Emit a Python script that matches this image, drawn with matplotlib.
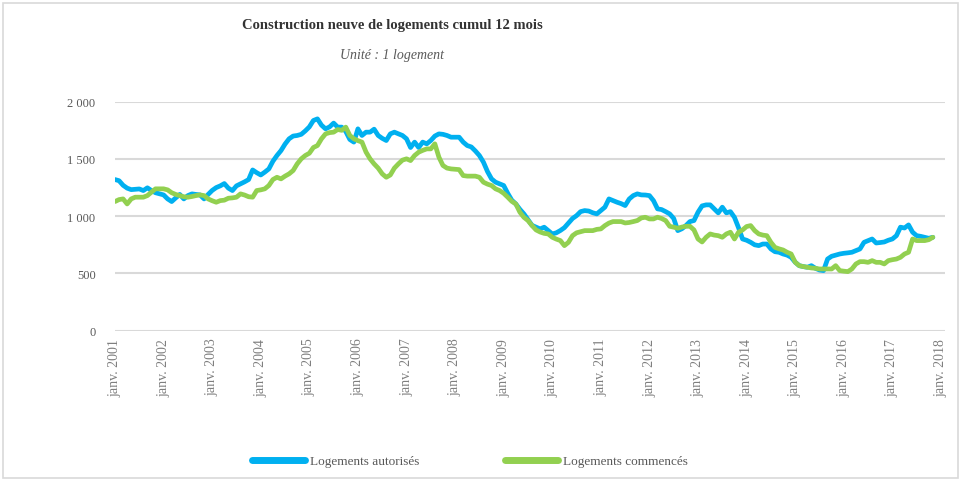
import matplotlib
matplotlib.use("Agg")
import matplotlib.pyplot as plt
from matplotlib.patches import Rectangle

# monthly values, janv. 2001 -> nov. 2017
autorises = [
    1320, 1310, 1270, 1245, 1232, 1235, 1238, 1224, 1248, 1224, 1205, 1195,
    1186, 1151, 1128, 1160, 1190, 1151, 1180, 1195, 1190, 1186, 1151, 1190,
    1225, 1250, 1265, 1285, 1245, 1224, 1265, 1282, 1300, 1320, 1404, 1380,
    1360, 1385, 1413, 1480, 1530, 1573, 1630, 1676, 1700, 1705, 1715, 1745,
    1780, 1836, 1850, 1795, 1763, 1780, 1813, 1778, 1778, 1740, 1670, 1647,
    1763, 1705, 1734, 1734, 1760, 1705, 1680, 1661, 1719, 1734, 1720, 1705,
    1676, 1600, 1647, 1600, 1647, 1632, 1661, 1700, 1719, 1715, 1705, 1690,
    1690, 1690, 1647, 1617, 1605, 1570, 1530, 1472, 1390, 1326, 1297, 1282,
    1268, 1200, 1140, 1107, 1060, 1020, 970, 920, 904, 889, 904, 874,
    845, 855, 875, 900, 940, 980, 1005, 1040, 1049, 1045, 1030, 1020,
    1049, 1079, 1151, 1136, 1122, 1110, 1093, 1150, 1180, 1195, 1186, 1185,
    1180, 1136, 1064, 1058, 1040, 1020, 980, 874, 890, 918, 953, 962,
    1035, 1090, 1099, 1099, 1064, 1029, 1079, 1029, 1040, 990, 900, 801,
    790, 772, 750, 743, 757, 757, 714, 690, 685, 670, 660, 641,
    598, 568, 560, 554, 568, 545, 530, 525, 626, 650, 660, 670,
    676, 680, 685, 700, 714, 772, 787, 801, 766, 770, 775, 790,
    801, 830, 904, 897, 924, 860, 830, 824, 815, 807, 816,
]

commences = [
    1128, 1145, 1151, 1107, 1151, 1166, 1166, 1166, 1180, 1210, 1239, 1239,
    1239, 1230, 1205, 1190, 1180, 1170, 1166, 1172, 1180, 1186, 1180, 1151,
    1135, 1122, 1136, 1140, 1157, 1160, 1166, 1195, 1185, 1170, 1166, 1224,
    1230, 1239, 1268, 1320, 1340, 1326, 1350, 1370, 1399, 1457, 1501, 1530,
    1550, 1600, 1617, 1676, 1719, 1730, 1734, 1757, 1750, 1778, 1705, 1676,
    1660, 1647, 1560, 1501, 1457, 1420, 1370, 1340, 1360, 1420, 1457, 1490,
    1501, 1486, 1530, 1559, 1575, 1588, 1588, 1632, 1516, 1443, 1420, 1413,
    1410, 1407, 1355, 1350, 1350, 1350, 1340, 1297, 1280, 1268, 1239, 1224,
    1200, 1166, 1130, 1107, 1035, 990, 962, 918, 880, 862, 850, 845,
    816, 800, 787, 743, 772, 830, 855, 865, 874, 874, 874, 885,
    889, 918, 940, 953, 953, 953, 941, 945, 953, 962, 985, 991,
    976, 976, 991, 980, 962, 912, 904, 895, 905, 912, 912, 880,
    801, 775, 816, 845, 835, 830, 816, 845, 860, 801, 860, 880,
    910, 918, 874, 845, 835, 830, 772, 728, 715, 705, 685, 670,
    598, 568, 560, 554, 548, 545, 539, 539, 539, 539, 568, 525,
    520, 516, 539, 583, 603, 603, 597, 612, 597, 597, 583, 612,
    620, 626, 641, 670, 685, 801, 787, 787, 787, 795, 816,
]

years = list(range(2001, 2019))
tick_labels = ["janv. %d" % y for y in years]
y_ticks = [0, 500, 1000, 1500, 2000]
y_labels = ["0", "500", "1 000", "1 500", "2 000"]

serif = ["Liberation Serif", "DejaVu Serif"]
gray = "#595959"

fig = plt.figure(figsize=(9.61, 4.81), dpi=100)
fig.patches.append(Rectangle((0.003, 0.004), 0.994, 0.988, transform=fig.transFigure,
                             fill=False, edgecolor="#d9d9d9", linewidth=1.2))

ax = fig.add_axes([115 / 961, 1 - 331.7 / 481, 830 / 961, 229 / 481])
months = list(range(len(autorises)))
ax.plot(months, autorises, color="#00B0F0", lw=3.4, solid_capstyle="round",
        solid_joinstyle="round", label="Logements autorisés")
ax.plot(months, commences, color="#92D050", lw=3.4, solid_capstyle="round",
        solid_joinstyle="round", label="Logements commencés")

ax.set_xlim(0, 205)
ax.set_ylim(0, 2000)
ax.set_yticks(y_ticks)
ax.set_yticklabels(y_labels, family=serif, fontsize=9, color=gray)
ax.set_xticks([12 * i for i in range(len(years))])
ax.set_xticklabels(tick_labels, rotation=90, family=serif, fontsize=10, color="#7f7f7f")
ax.tick_params(axis="both", length=0)
ax.tick_params(axis="y", pad=14)
ax.tick_params(axis="x", pad=5)
ax.grid(axis="y", color="#d9d9d9", lw=1.5)
ax.set_axisbelow(True)
for s in ax.spines.values():
    s.set_visible(False)

fig.text(392 / 961, 1 - 25 / 481, "Construction neuve de logements cumul 12 mois",
         ha="center", va="center", family=serif, fontsize=10.5, fontweight="bold", color="#333333")
fig.text(392 / 961, 1 - 56 / 481, "Unité : 1 logement", ha="center", va="center",
         family=serif, fontsize=10, style="italic", color=gray)

leg = fig.legend(loc="center", bbox_to_anchor=(0.489, 1 - 462 / 481), ncol=2, frameon=False,
                 handlelength=4.0, handletextpad=0.4, columnspacing=6.5,
                 prop={"family": serif, "size": 9.5})
for t in leg.get_texts():
    t.set_color(gray)
for h in leg.get_lines():
    h.set_linewidth(5)
    h.set_solid_capstyle("round")

fig.savefig("out.png", dpi=100)
